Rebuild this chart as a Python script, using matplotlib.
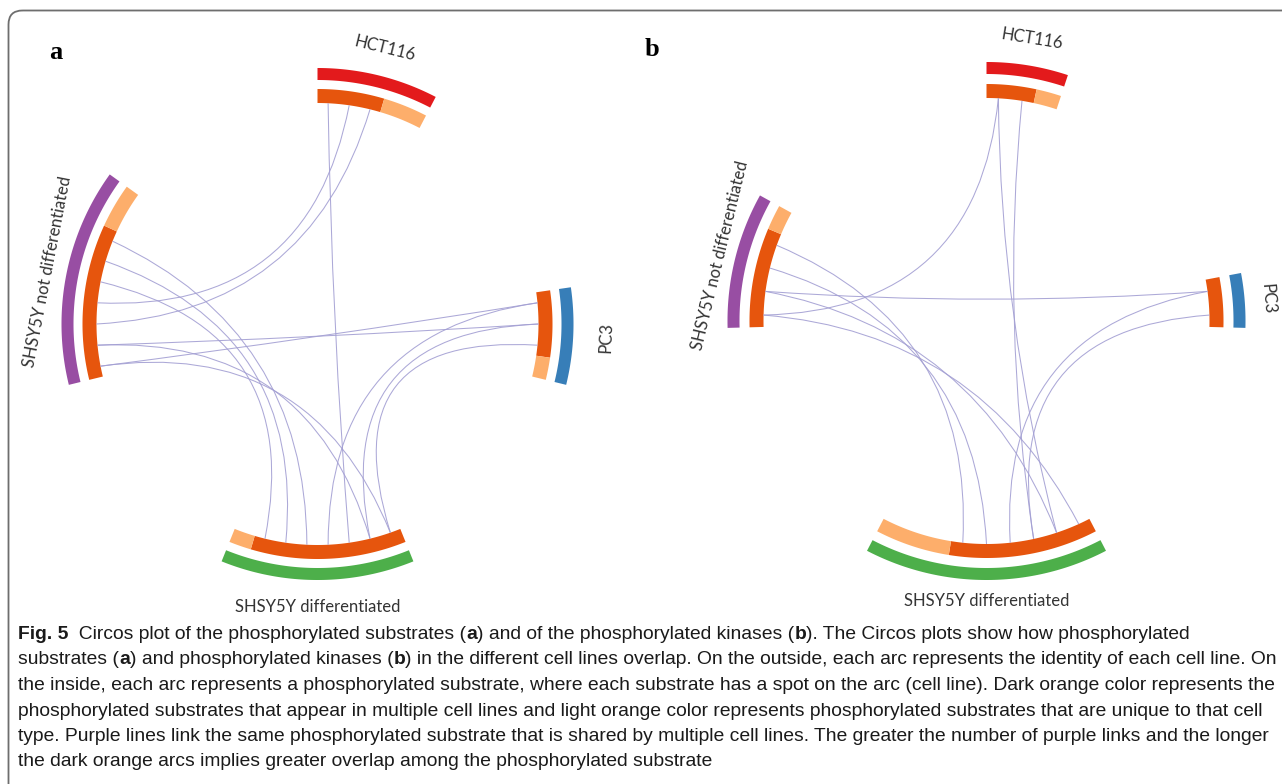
import numpy as np
import matplotlib
matplotlib.use('Agg')
import matplotlib.pyplot as plt
from matplotlib.path import Path
from matplotlib.patches import PathPatch, Polygon, FancyBboxPatch


# Cell lines, clockwise from the top of each circle
cellLines = ['HCT116', 'PC3', 'SHSY5Y differentiated', 'SHSY5Y not differentiated']
lineColors = ['#e31a1c', '#377eb8', '#4daf4a', '#984ea3']
sharedColor = '#e6550d'   # dark orange: found in several cell lines
uniqueColor = '#fdae6b'   # light orange: only in that cell line
linkColor = '#a39fd3'

# (a) phosphorylated substrates: counts per cell line
sharedA = [3, 3, 7, 7]
uniqueA = [2, 1, 1, 2]
# links between (cell line, slot) pairs, slots counted clockwise
linksA = [
    ((0, 0), (2, 2)),
    ((0, 1), (3, 3)),
    ((0, 2), (3, 2)),
    ((3, 1), (1, 1)),
    ((3, 0), (1, 0)),
    ((3, 6), (2, 4)),
    ((3, 5), (2, 5)),
    ((3, 4), (2, 6)),
    ((3, 1), (2, 1)),
    ((3, 0), (2, 0)),
    ((1, 0), (2, 3)),
    ((1, 1), (2, 1)),
    ((1, 2), (2, 0)),
]

# (b) phosphorylated kinases
sharedB = [2, 2, 6, 4]
uniqueB = [1, 0, 3, 1]
linksB = [
    ((0, 0), (3, 0)),
    ((0, 0), (2, 1)),
    ((0, 1), (2, 2)),
    ((3, 1), (1, 0)),
    ((3, 3), (2, 5)),
    ((3, 2), (2, 4)),
    ((3, 1), (2, 1)),
    ((3, 0), (2, 0)),
    ((1, 0), (2, 3)),
    ((1, 1), (2, 2)),
]

captionLines = [
    [('Fig. 5', 'bold'), ('  Circos plot of the phosphorylated substrates (', 'normal'), ('a', 'bold'),
     (') and of the phosphorylated kinases (', 'normal'), ('b', 'bold'),
     ('). The Circos plots show how phosphorylated', 'normal')],
    [('substrates (', 'normal'), ('a', 'bold'), (') and phosphorylated kinases (', 'normal'), ('b', 'bold'),
     (') in the different cell lines overlap. On the outside, each arc represents the identity of each cell line. On', 'normal')],
    [('the inside, each arc represents a phosphorylated substrate, where each substrate has a spot on the arc (cell line). Dark orange color represents the', 'normal')],
    [('phosphorylated substrates that appear in multiple cell lines and light orange color represents phosphorylated substrates that are unique to that cell', 'normal')],
    [('type. Purple lines link the same phosphorylated substrate that is shared by multiple cell lines. The greater the number of purple links and the longer', 'normal')],
    [('the dark orange arcs implies greater overlap among the phosphorylated substrate', 'normal')],
]

capFont = 'Liberation Sans'
labelFont = 'Lato'


def polar(cx, cy, r, theta):
    # theta in degrees, clockwise from the top; y grows downwards
    t = np.radians(theta)
    return cx + r * np.sin(t), cy - r * np.cos(t)


def band(ax, cx, cy, r0, r1, t0, t1, color):
    th = np.linspace(t0, t1, 80)
    xo, yo = polar(cx, cy, r1, th)
    xi, yi = polar(cx, cy, r0, th[::-1])
    pts = np.column_stack([np.r_[xo, xi], np.r_[yo, yi]])
    ax.add_patch(Polygon(pts, closed=True, facecolor=color, edgecolor='none'))


def draw_circos(ax, cx, cy, shared, unique, links, gap, outer, inner, labelR, bezierR):
    total = sum(shared) + sum(unique)
    unit = (360.0 - 4 * gap) / total
    starts = []
    t = 0.0
    for s, u in zip(shared, unique):
        starts.append(t)
        t += (s + u) * unit + gap

    for i, name in enumerate(cellLines):
        t0 = starts[i]
        tShared = t0 + shared[i] * unit
        t1 = tShared + unique[i] * unit
        band(ax, cx, cy, outer[0], outer[1], t0, t1, lineColors[i])
        band(ax, cx, cy, inner[0], inner[1], t0, tShared, sharedColor)
        if unique[i]:
            band(ax, cx, cy, inner[0], inner[1], tShared, t1, uniqueColor)

        mid = (t0 + t1) / 2
        lx, ly = polar(cx, cy, labelR[i], mid)
        rot = -mid
        if 90 < mid < 270:
            rot += 180
        ax.text(lx, ly, name, rotation=rot, rotation_mode='anchor', ha='center', va='center',
                fontsize=12, color='#333333', fontfamily=labelFont, fontstyle='normal')

    # links: bezier curves with the control point near the centre
    for (s0, k0), (s1, k1) in links:
        a0 = starts[s0] + (k0 + 0.5) * unit
        a1 = starts[s1] + (k1 + 0.5) * unit
        p0 = np.array(polar(cx, cy, inner[0], a0))
        p2 = np.array(polar(cx, cy, inner[0], a1))
        u = np.array([np.sin(np.radians(a0)) + np.sin(np.radians(a1)),
                      -np.cos(np.radians(a0)) - np.cos(np.radians(a1))])
        n = np.linalg.norm(u)
        u = u / n if n > 1e-9 else np.zeros(2)
        c = np.array([cx, cy]) + bezierR * u
        path = Path([p0, c, p2], [Path.MOVETO, Path.CURVE3, Path.CURVE3])
        ax.add_patch(PathPatch(path, facecolor='none', edgecolor=linkColor, lw=0.75, alpha=0.9))


fig = plt.figure(figsize=(12.82, 7.84), dpi=100)
ax = fig.add_axes([0, 0, 1, 1])
ax.set_xlim(0, 1282)
ax.set_ylim(784, 0)
ax.axis('off')

# Frame around the figure
ax.add_patch(FancyBboxPatch((8.5, 10.5), 1320, 820, boxstyle='round,pad=0,rounding_size=14',
                            facecolor='none', edgecolor='#6e6e6e', lw=1.3))

draw_circos(ax, 317.5, 324, sharedA, uniqueA, linksA, gap=54.25,
            outer=(244, 256), inner=(221, 235), labelR=[284, 289, 283, 275], bezierR=14)
draw_circos(ax, 986.5, 321, sharedB, uniqueB, linksB, gap=61.0,
            outer=(247, 259), inner=(223, 237), labelR=[286, 282, 280, 274], bezierR=14)

ax.text(56, 52, 'a', fontfamily='Liberation Serif', fontweight='bold', fontsize=19, ha='center', va='center')
ax.text(652, 49, 'b', fontfamily='Liberation Serif', fontweight='bold', fontsize=19, ha='center', va='center')

# Caption, written run by run so bold pieces sit inline; size chosen so
# the longest line fits inside the frame
renderer = fig.canvas.get_renderer()


def put_line(runs, x, y, size):
    placed = []
    for s, w in runs:
        t = ax.text(x, y, s, fontfamily=capFont, fontweight=w, fontsize=size,
                    va='baseline', ha='left', color='#1a1a1a')
        x += t.get_window_extent(renderer).width
        placed.append(t)
    return x, placed


widest = 0
for runs in captionLines:
    w, placed = put_line(runs, 0, -100, 12)
    widest = max(widest, w)
    for t in placed:
        t.remove()
capSize = 12 * 1256 / widest

for i, runs in enumerate(captionLines):
    put_line(runs, 18, 639 + 25.5 * i, capSize)

fig.savefig('out.png', dpi=100)
